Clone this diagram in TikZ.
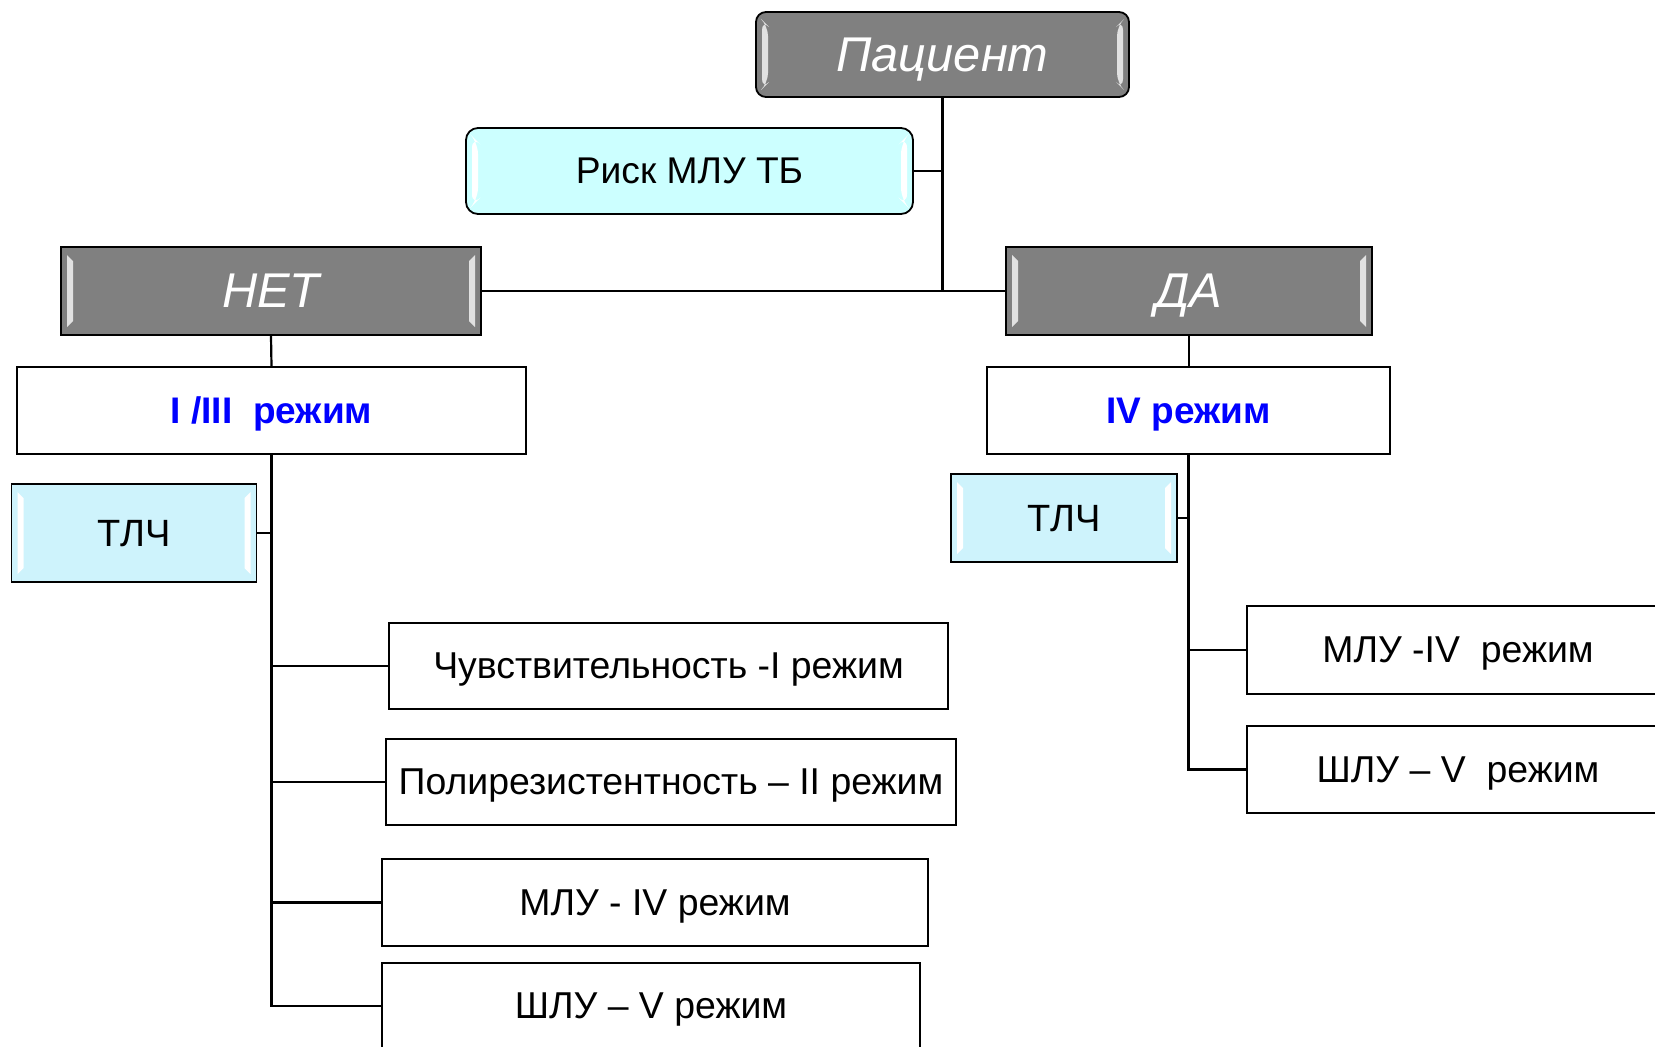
\documentclass[tikz,border=0pt]{standalone}
\usepackage{fontspec}
\setmainfont{Liberation Sans}
\definecolor{boxgray}{RGB}{128,128,128}
\definecolor{stripgray}{RGB}{225,225,225}
\definecolor{riskcyan}{RGB}{204,255,255}
\definecolor{tlcblue}{RGB}{206,243,252}
\definecolor{regblue}{RGB}{0,0,255}
\newcommand{\bevelstrips}[2]{% #1 strip colour, #2 inset
  \fill[#1] ([xshift=#2,yshift=-4pt]path picture bounding box.north west) -- ++(3pt,-3pt)
     -- ([xshift=#2+3pt,yshift=7pt]path picture bounding box.south west) -- ++(-3pt,-3pt) -- cycle;
  \fill[#1] ([xshift=-#2,yshift=-4pt]path picture bounding box.north east) -- ++(-3pt,-3pt)
     -- ([xshift=-#2-3pt,yshift=7pt]path picture bounding box.south east) -- ++(3pt,-3pt) -- cycle;
}
\tikzset{
  graybox/.style={draw=black, line width=0.9pt, fill=boxgray, text=white,
     font=\fontsize{24.4}{29}\selectfont\itshape, inner sep=0pt, text depth=0pt,
     path picture={\bevelstrips{stripgray}{3pt}}},
  cyanbox/.style={draw=black, line width=0.9pt, fill=tlcblue, text=black,
     font=\fontsize{19}{23}\selectfont, inner sep=0pt, text depth=0pt,
     path picture={\bevelstrips{white}{3pt}}},
  whitebox/.style={draw=black, line width=0.8pt, fill=white, text=black,
     font=\fontsize{18.7}{22}\selectfont, inner sep=0pt, text depth=0pt},
  regbox/.style={whitebox, text=regblue, font=\fontsize{18.5}{22}\selectfont\bfseries},
  conn/.style={draw=black, line width=1.1pt},
}
\begin{document}
\begin{tikzpicture}[x=0.5pt, y=-0.5pt]
\useasboundingbox[fill=white] (0,0) rectangle (1655,1046);
% top
\node[graybox, rounded corners=5pt, minimum width=373*0.5pt, minimum height=85*0.5pt] (pac) at (942.5,54.5) {Пациент};
\node[cyanbox, fill=riskcyan, rounded corners=6pt, font=\fontsize{18.6}{22}\selectfont, minimum width=447*0.5pt, minimum height=86*0.5pt] (risk) at (689.5,171) {Риск МЛУ ТБ};
\node[graybox, minimum width=420*0.5pt, minimum height=88*0.5pt] (net) at (271,291) {НЕТ};
\node[graybox, minimum width=366*0.5pt, minimum height=88*0.5pt] (da) at (1189,291) {ДА};
% regimens
\node[regbox, minimum width=509*0.5pt, minimum height=87*0.5pt] (reg1) at (271.5,410.5) {I /III\ \ режим};
\node[regbox, minimum width=403*0.5pt, minimum height=87*0.5pt] (reg4) at (1188.5,410.5) {IV режим};
% TLC
\node[cyanbox, minimum width=245*0.5pt, minimum height=98*0.5pt] (tlcL) at (134,533) {ТЛЧ};
\node[cyanbox, minimum width=226*0.5pt, minimum height=88*0.5pt] (tlcR) at (1064,518) {ТЛЧ};
% left leaves
\node[whitebox, minimum width=559*0.5pt, minimum height=86*0.5pt] (chuv) at (668.5,666) {Чувствительность -I режим};
\node[whitebox, minimum width=570*0.5pt, minimum height=86*0.5pt] (poly) at (671,782) {Полирезистентность – II режим};
\node[whitebox, minimum width=546*0.5pt, minimum height=87*0.5pt] (mduL) at (655,902.5) {МЛУ - IV режим};
\node[whitebox, minimum width=538*0.5pt, minimum height=86*0.5pt] (xdrL) at (651,1006) {ШЛУ – V режим};
% right leaves
\node[whitebox, minimum width=422*0.5pt, minimum height=88*0.5pt] (mduR) at (1458,650) {МЛУ -IV\ \ режим};
\node[whitebox, minimum width=422*0.5pt, minimum height=87*0.5pt] (xdrR) at (1458,769.5) {ШЛУ – V\ \ режим};
% connectors
\coordinate (hub) at (pac.south |- net.east);
\draw[conn] (pac.south) -- (hub);
\draw[conn] (risk.east) -- (risk.east -| pac.south);
\draw[conn] (net.east) -- (da.west);
\draw[conn] (net.south) -- (reg1.north);
\draw[conn] (da.south) -- (da.south |- reg4.north);
\draw[conn] (reg1.south) |- (tlcL.east);
\draw[conn] (reg1.south) |- (chuv.west);
\draw[conn] (reg1.south) |- (poly.west);
\draw[conn] (reg1.south) |- (mduL.west);
\draw[conn] (reg1.south) |- (xdrL.west);
\draw[conn] (reg4.south) |- (tlcR.east);
\draw[conn] (reg4.south) |- (mduR.west);
\draw[conn] (reg4.south) |- (xdrR.west);
\end{tikzpicture}
\end{document}
